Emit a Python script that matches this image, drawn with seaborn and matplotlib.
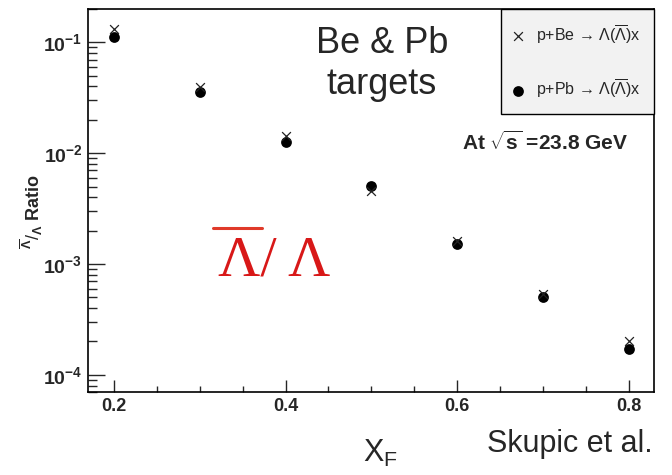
import numpy as np
import pandas as pd
import matplotlib
matplotlib.use("Agg")
import matplotlib.pyplot as plt
from matplotlib.lines import Line2D
from matplotlib.ticker import FixedLocator, MultipleLocator, NullFormatter, LogLocator
import seaborn as sns

# Lambda-bar / Lambda ratio vs xF, p+Be and p+Pb (Skupic et al.)
xf = [0.2, 0.3, 0.4, 0.5, 0.6, 0.7, 0.8]
ratio_be = [0.131, 0.0395, 0.0142, 0.00453, 0.00160, 0.000532, 0.000204]
ratio_pb = [0.1127, 0.0356, 0.01256, 0.0051, 0.00152, 0.000504, 0.000172]

label_be = "p+Be \u2192 \u039b($\\overline{\\Lambda}$)x"
label_pb = "p+Pb \u2192 \u039b($\\overline{\\Lambda}$)x"

xticks = [0.2, 0.4, 0.6, 0.8]
xtick_labels = ["0.2", "0.4", "0.6", "0.8"]
yticks = [1e-4, 1e-3, 1e-2, 1e-1]
ytick_labels = [r"$\mathbf{10^{-4}}$", r"$\mathbf{10^{-3}}$",
                r"$\mathbf{10^{-2}}$", r"$\mathbf{10^{-1}}$"]

df_be = pd.DataFrame({"xF": xf, "ratio": ratio_be})
df_pb = pd.DataFrame({"xF": xf, "ratio": ratio_pb})

sns.set_style("white")
plt.rcParams["font.family"] = ["Liberation Sans", "DejaVu Sans"]
plt.rcParams["mathtext.fontset"] = "custom"
plt.rcParams["mathtext.rm"] = "Liberation Sans"
plt.rcParams["mathtext.it"] = "Liberation Sans:italic"
plt.rcParams["mathtext.bf"] = "Liberation Sans:bold"

fig = plt.figure(figsize=(6.72, 4.75), dpi=100)
ax = fig.add_axes([88 / 672, 83 / 475, 566 / 672, 383 / 475])

sns.scatterplot(data=df_be, x="xF", y="ratio", marker="x", s=40, color="#222222",
                linewidth=0.9, label=label_be, ax=ax, zorder=3)
sns.scatterplot(data=df_pb, x="xF", y="ratio", marker="o", s=60, color="black",
                edgecolor="black", linewidth=0, label=label_pb, ax=ax, zorder=2)

ax.set_yscale("log")
ax.set_xlim(0.17, 0.829)
ax.set_ylim(7.0e-5, 0.2)

ax.xaxis.set_major_locator(FixedLocator(xticks))
ax.set_xticklabels(xtick_labels)
ax.xaxis.set_minor_locator(MultipleLocator(0.05))
ax.yaxis.set_major_locator(FixedLocator(yticks))
ax.set_yticklabels(ytick_labels)
ax.yaxis.set_minor_locator(LogLocator(base=10, subs=np.arange(2, 10)))
ax.yaxis.set_minor_formatter(NullFormatter())

ax.tick_params(axis="x", which="major", direction="in", length=9, width=1,
               labelsize=13, pad=4, top=False, bottom=True)
ax.tick_params(axis="x", which="minor", direction="in", length=4.5, width=1,
               top=False, bottom=True)
ax.tick_params(axis="y", which="major", direction="in", length=12.5, width=1,
               labelsize=14, pad=4, left=True, right=False)
ax.tick_params(axis="y", which="minor", direction="in", length=6.5, width=1,
               left=True, right=False)
for lab in ax.get_xticklabels():
    lab.set_fontweight("bold")

for sp in ax.spines.values():
    sp.set_color("black")
    sp.set_linewidth(1.2)

ax.set_xlabel("")
ax.set_ylabel("")

leg = ax.legend(loc="upper right", bbox_to_anchor=(1.0, 1.0), borderaxespad=0,
                frameon=True, fancybox=False, edgecolor="black", facecolor="#f2f2f2",
                framealpha=1, fontsize=11.5, labelspacing=2.0, borderpad=0.85,
                handlelength=0.5, handletextpad=0.85)
leg.get_frame().set_linewidth(1.0)

fig.text(382 / 672, 1 - 64 / 475, "Be & Pb\ntargets", fontsize=26,
         ha="center", va="center", linespacing=1.2)
fig.text(462 / 672, 1 - 142 / 475, r"At $\mathbf{\sqrt{s}}$ =23.8 GeV",
         fontsize=15, fontweight="bold", ha="left", va="center")

# red Lambda-bar / Lambda annotation, with the bar drawn as a line
fig.text(218 / 672, 1 - 262 / 475, "\u039b/ \u039b", fontsize=42,
         family="Liberation Serif", color="#d81818", ha="left", va="center")
fig.add_artist(Line2D([213 / 672, 262 / 672], [1 - 228 / 475, 1 - 228 / 475],
                      transform=fig.transFigure, color="#e03a2a", linewidth=2.2))

fig.text(32 / 672, 1 - 212 / 475,
         r"$^{\overline{\mathbf{\Lambda}}}/_{\mathbf{\Lambda}}$ Ratio",
         fontsize=13, fontweight="bold", rotation=90, ha="center", va="center")
fig.text(380 / 672, 1 - 453 / 475, r"X$_{\mathrm{F}}$", fontsize=22,
         ha="center", va="center")
fig.text(570 / 672, 1 - 444 / 475, "Skupic et al.", fontsize=22,
         ha="center", va="center")

fig.savefig("out.png", dpi=100)
